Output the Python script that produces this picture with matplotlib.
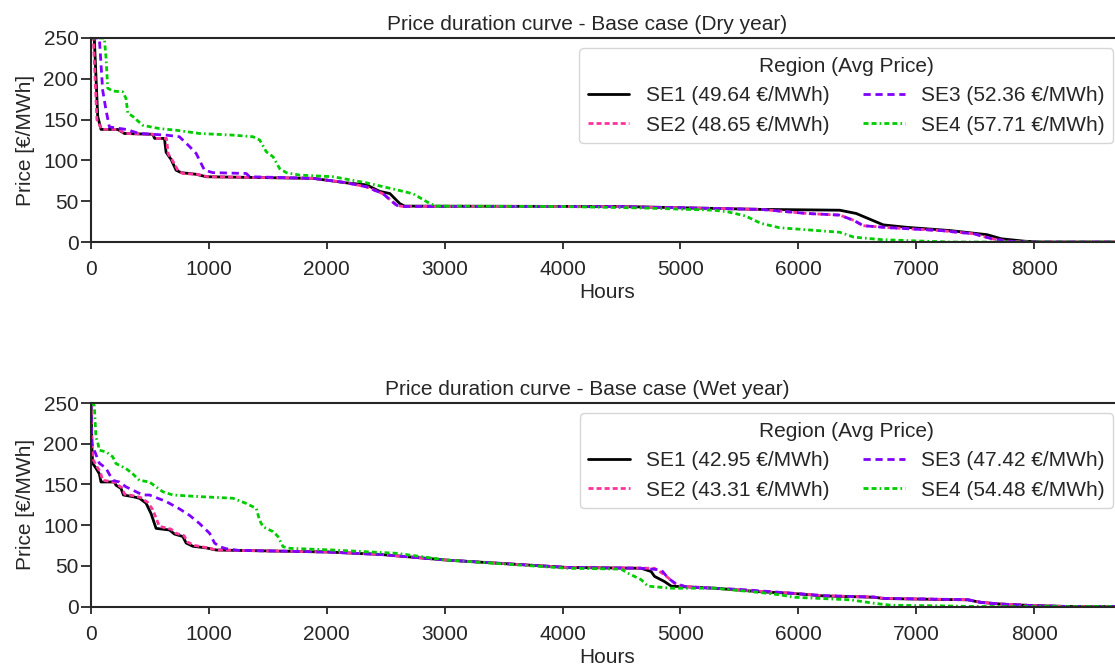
import matplotlib
matplotlib.use("Agg")
import matplotlib.pyplot as plt
import seaborn as sns

sns.set_theme(style="ticks")
plt.rcParams['font.family'] = ['Liberation Sans', 'DejaVu Sans']

regions = ["SE1", "SE2", "SE3", "SE4"]

# Dry year - breakpoints (hours, EUR/MWh)
dry_se1_h = [0, 28, 57, 85, 227, 283, 524, 540, 623, 637, 680, 722, 765, 892, 977, 1884, 2167, 2337, 2450, 2535, 2620, 2660, 3500, 4500, 5000, 5680, 6350, 6490, 6630, 6720, 6920, 7290, 7600, 7720, 7920, 8050, 8760]
dry_se1_p = [250, 250, 154, 138, 138, 133, 132, 127, 127, 110, 101, 88, 85, 83, 80, 78, 72.5, 70, 62, 59.4, 47, 44, 43.8, 43.5, 42, 40, 39, 35, 26.5, 21, 18, 14, 9, 4, 1, 0, 0]
dry_se2_h = [0, 20, 50, 90, 230, 290, 530, 545, 640, 655, 695, 740, 780, 900, 990, 1890, 2150, 2337, 2478, 2592, 2640, 3500, 4500, 5000, 5680, 6070, 6350, 6470, 6550, 6780, 7210, 7490, 7640, 7780, 7950, 8760]
dry_se2_p = [250, 250, 150, 138, 138, 133, 132, 127, 127, 108, 99, 87, 84, 83, 80, 78, 73, 67.6, 59, 45, 43.7, 43.6, 43.4, 42, 40, 35, 33, 26.5, 20, 17.5, 14, 10, 4, 1, 0, 0]
dry_se3_h = [0, 71, 99, 127, 156, 297, 410, 637, 750, 836, 892, 935, 963, 1034, 1317, 1345, 1890, 2150, 2337, 2478, 2593, 2640, 3500, 4500, 5000, 5680, 6070, 6350, 6470, 6550, 6780, 7210, 7490, 7640, 7780, 7950, 8760]
dry_se3_p = [250, 250, 186, 162, 141, 138, 133, 131, 129, 117, 108.6, 96, 88, 85, 84, 80, 78, 73, 67.6, 59, 45, 43.6, 43.5, 43.3, 42, 40, 35, 33, 26.5, 20, 17.5, 14, 10, 4, 1, 0, 0]
dry_se4_h = [0, 113, 127, 142, 184, 269, 297, 312, 354, 439, 580, 722, 920, 1204, 1374, 1431, 1487, 1544, 1600, 1657, 1770, 2054, 2337, 2592, 2734, 2876, 2930, 4000, 4713, 5280, 5400, 5550, 5680, 5840, 6350, 6470, 6700, 7070, 7300, 8760]
dry_se4_p = [250, 250, 227, 188.5, 185, 184, 176, 158, 154, 143, 139, 137, 133, 131, 129, 125, 110.6, 104.5, 90, 85, 82, 80, 72.5, 64, 59, 47, 44, 43.5, 41.6, 39, 37, 32, 23, 17.5, 12, 6, 3, 1, 0, 0]

# Wet year
wet_se1_h = [0, 8, 14, 42, 71, 85, 198, 212, 255, 275, 354, 411, 467, 510, 552, 666, 708, 779, 807, 864, 977, 1062, 2000, 2451, 3019, 3587, 4041, 4666, 4751, 4780, 4865, 4922, 5291, 5689, 5931, 6215, 6641, 6727, 7437, 7550, 7720, 7977, 8300, 8760]
wet_se1_p = [250, 196, 176, 170, 163, 153, 153, 149, 145, 137, 135, 133, 127, 114, 96, 94, 89, 86, 78, 74, 72, 69.4, 67, 64, 57, 52, 48, 47, 43, 37, 30.6, 25, 22.5, 18, 16.3, 13, 11.4, 9.8, 8.2, 5, 3, 1.2, 0, 0]
wet_se2_h = [0, 10, 20, 50, 80, 99, 200, 220, 262, 285, 360, 420, 480, 524, 580, 680, 720, 790, 820, 880, 990, 1070, 2000, 2451, 3019, 3587, 4041, 4780, 4865, 4950, 5007, 5291, 5689, 5931, 6215, 6641, 6727, 7437, 7560, 7730, 7990, 8300, 8760]
wet_se2_p = [250, 192, 180, 172, 165, 155, 153, 150, 146, 138, 136, 134, 128, 119, 98.5, 95, 90, 87, 79, 75, 72, 69.4, 67, 64, 57, 52, 48, 47, 39, 28.6, 25, 22.5, 18.5, 16.5, 13.3, 11.6, 10, 8.4, 5, 3, 1.2, 0, 0]
wet_se3_h = [0, 8, 28, 71, 127, 184, 241, 297, 354, 439, 496, 637, 750, 836, 920, 1006, 1048, 1091, 1147, 1250, 2000, 2451, 3019, 3587, 4041, 4666, 4837, 4894, 4950, 5050, 5505, 5931, 6215, 6641, 6727, 7437, 7550, 7720, 7977, 8300, 8760]
wet_se3_p = [250, 200, 192, 176, 170, 155, 153, 147, 143, 137, 137, 129, 120, 112, 102, 90, 78, 73.5, 71, 69, 67, 64, 57, 52, 48, 47, 45, 35, 29, 24, 21, 16.5, 13.3, 11.6, 10, 8.4, 5, 3, 1.2, 0, 0]
wet_se4_h = [0, 28, 42, 57, 71, 127, 184, 212, 297, 354, 411, 496, 552, 609, 694, 920, 1204, 1317, 1402, 1430, 1459, 1544, 1586, 1629, 1686, 2054, 2592, 3019, 4041, 4496, 4553, 4666, 4723, 4922, 5291, 5689, 5846, 5960, 6442, 6641, 6783, 7210, 7500, 8760]
wet_se4_p = [250, 247, 208, 202, 192, 190, 184, 175.6, 169.5, 163, 155, 153, 147, 141, 137, 135, 133, 126.6, 120.5, 106, 98, 92, 86, 73.5, 71.5, 69.4, 65.4, 57, 47, 46, 41, 33, 25, 22.5, 22.5, 17, 14.3, 11.4, 8.2, 4, 1.6, 0.8, 0, 0]

dry_avg = [49.64, 48.65, 52.36, 57.71]
wet_avg = [42.95, 43.31, 47.42, 54.48]

colors = ["black", "#ff3399", "#8000ff", "#00cc00"]
dashes = [None, (0, (1.8, 1.1)), (0, (2.6, 1.7)), (0, (1.8, 1.1, 1.8, 1.1, 0.6, 1.1))]

dry = [(dry_se1_h, dry_se1_p), (dry_se2_h, dry_se2_p), (dry_se3_h, dry_se3_p), (dry_se4_h, dry_se4_p)]
wet = [(wet_se1_h, wet_se1_p), (wet_se2_h, wet_se2_p), (wet_se3_h, wet_se3_p), (wet_se4_h, wet_se4_p)]

fig = plt.figure(figsize=(11.15, 6.71), dpi=100)
ax1 = fig.add_axes([0.0816, 0.6393, 0.9263, 0.3041])
ax2 = fig.add_axes([0.0816, 0.0961, 0.9263, 0.3033])

fs = 15
for ax, data, avg, title in [(ax1, dry, dry_avg, "Price duration curve - Base case (Dry year)"),
                             (ax2, wet, wet_avg, "Price duration curve - Base case (Wet year)")]:
    for i, (h, p) in enumerate(data):
        ls = "-" if dashes[i] is None else dashes[i]
        ax.plot(h, p, color=colors[i], linestyle=ls, lw=2,
                label=f"{regions[i]} ({avg[i]:.2f} €/MWh)")
    ax.set_xlim(0, 8760)
    ax.set_ylim(0, 250)
    ax.set_xticks(range(0, 9000, 1000))
    ax.set_yticks(range(0, 300, 50))
    ax.tick_params(labelsize=fs, width=1.3)
    ax.tick_params(axis="x", length=5, pad=8)
    ax.tick_params(axis="y", length=7, pad=2)
    for s in ax.spines.values():
        s.set_linewidth(1.5)
    ax.set_xlabel("Hours", fontsize=fs, labelpad=3)
    ax.set_ylabel("Price [€/MWh]", fontsize=fs, labelpad=6)
    ax.set_title(title, fontsize=fs, x=0.4807)
    ax.legend(title="Region (Avg Price)", ncol=2, loc="upper right",
              fontsize=fs, title_fontsize=fs, columnspacing=1.6,
              handlelength=2.0)

fig.savefig("out.png", dpi=100)
